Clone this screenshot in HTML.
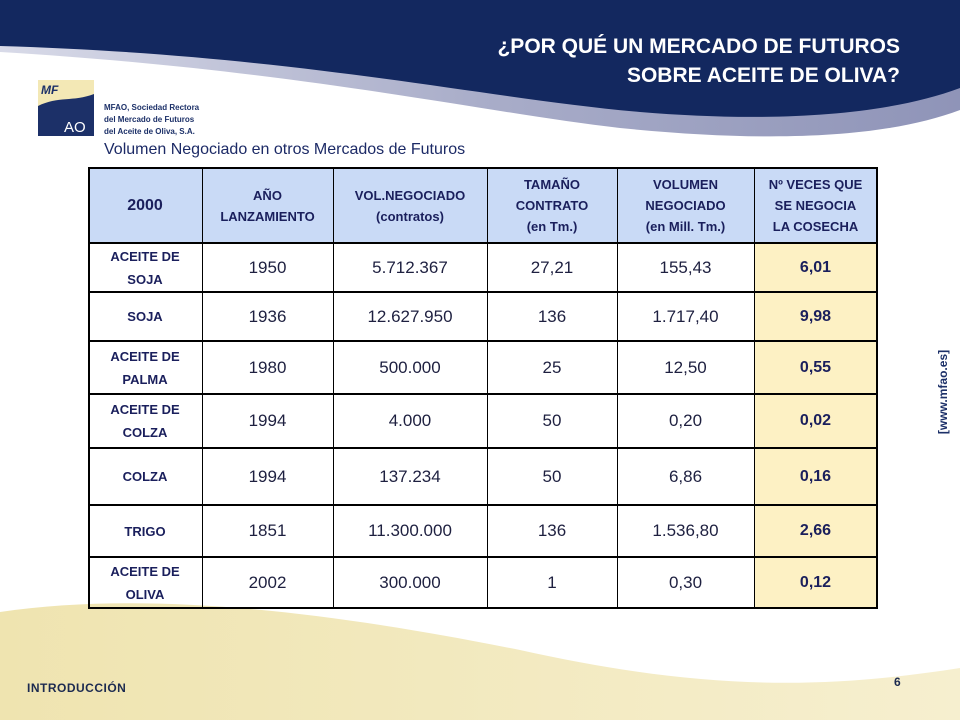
<!DOCTYPE html>
<html><head><meta charset="utf-8"><style>
body{margin:0;width:960px;height:720px;overflow:hidden;background:#fff;font-family:"Liberation Sans",Arial,sans-serif;position:relative}
.abs{position:absolute}
.cell{position:absolute;display:flex;align-items:center;justify-content:center;text-align:center;box-sizing:border-box}
.hdr{color:#1a1f5c;font-weight:bold;font-size:13px;line-height:21px;background:#c9daf6}
.lab{color:#1a1f5c;font-weight:bold;font-size:13px;line-height:23px}
.num{color:#1e2040;font-size:17px}
.last{background:#fdf1c4;color:#1a1f5c;font-weight:bold;font-size:16px}
.vl{position:absolute;background:#000;width:1px}
.hl{position:absolute;background:#000;height:2px}
</style></head><body>
<svg class="abs" style="left:0;top:0" width="960" height="720">
<defs><linearGradient id="y" x1="0" x2="1" y1="0" y2="0"><stop offset="0" stop-color="#efe4b0"/><stop offset="1" stop-color="#f6efcf"/></linearGradient>
<linearGradient id="g" x1="0" x2="1" y1="0" y2="0"><stop offset="0" stop-color="#d8dae8"/><stop offset="0.5" stop-color="#a9adc9"/><stop offset="1" stop-color="#8f94b8"/></linearGradient></defs>
<path d="M0,0H960V110C880,140 760,142 620,128C480,112 300,70 0,52Z" fill="url(#g)"/>
<path d="M0,0H960V88C880,118 760,122 640,112C480,98 300,55 0,46Z" fill="#13285f"/>
<path d="M0,612C150,590 330,612 520,650C700,690 820,690 960,668V720H0Z" fill="url(#y)"/>
</svg>
<div class="abs" style="right:60px;top:32px;color:#fff;font-weight:bold;font-size:21px;text-align:right;line-height:29px">¿POR QUÉ UN MERCADO DE FUTUROS<br>SOBRE ACEITE DE OLIVA?</div>
<div class="abs" style="left:38px;top:80px;width:56px;height:56px;background:#f3e8b5;overflow:hidden">
<svg width="56" height="56"><path d="M0,26C20,16 35,22 56,14V56H0Z" fill="#1c3068"/><text x="3" y="14" font-size="12" font-style="italic" font-weight="bold" fill="#1c3068" font-family="Liberation Sans">MF</text><text x="26" y="52" font-size="15" fill="#fff" font-family="Liberation Sans">AO</text></svg></div>
<div class="abs" style="left:104px;top:102px;font-size:8px;font-weight:bold;color:#1c3068;line-height:12px">MFAO, Sociedad Rectora<br>del Mercado de Futuros<br>del Aceite de Oliva, S.A.</div>
<div class="abs" style="left:104px;top:141px;font-size:16px;color:#1c2a66">Volumen Negociado en otros Mercados de Futuros</div>
<div id="tbl"></div>
<div class="abs" style="left:898px;top:392px;width:90px;transform:rotate(-90deg);transform-origin:center;font-size:12px;font-weight:bold;color:#1c3068;text-align:center;line-height:12px;margin-top:-6px">[www.mfao.es]</div>
<div class="abs" style="left:27px;top:681px;font-size:12px;font-weight:bold;color:#1c2a50;letter-spacing:0.5px">INTRODUCCIÓN</div>
<div class="abs" style="left:894px;top:675px;font-size:12px;font-weight:bold;color:#1c2a50">6</div>
<script>
const cols=[88,202,333,487,617,754,877];
const rows=[168,243,292,341,394,448,505,557,608];
const headers=["2000","AÑO<br>LANZAMIENTO","VOL.NEGOCIADO<br>(contratos)","TAMAÑO<br>CONTRATO<br>(en Tm.)","VOLUMEN<br>NEGOCIADO<br>(en Mill.  Tm.)","Nº VECES QUE<br>SE NEGOCIA<br>LA COSECHA"];
const markets=["ACEITE DE<br>SOJA","SOJA","ACEITE DE<br>PALMA","ACEITE DE<br>COLZA","COLZA","TRIGO","ACEITE DE<br>OLIVA"];
const years=["1950","1936","1980","1994","1994","1851","2002"];
const contracts=["5.712.367","12.627.950","500.000","4.000","137.234","11.300.000","300.000"];
const sizes=["27,21","136","25","50","50","136","1"];
const volumes=["155,43","1.717,40","12,50","0,20","6,86","1.536,80","0,30"];
const times=["6,01","9,98","0,55","0,02","0,16","2,66","0,12"];
const t=document.getElementById('tbl');
function cell(c,r,html,cls,name){const d=document.createElement('div');d.className='cell '+cls;
d.style.left=cols[c]+'px';d.style.top=rows[r]+'px';d.style.width=(cols[c+1]-cols[c])+'px';d.style.height=(rows[r+1]-rows[r])+'px';d.innerHTML=html;


t.appendChild(d);}
headers.forEach((h,i)=>cell(i,0,h,'hdr','header-cell'));
t.firstChild.style.fontSize='16px';
markets.forEach((m,i)=>{const r=i+1;
cell(0,r,m,'lab','market-label');
cell(1,r,years[i],'num','launch-year');
cell(2,r,contracts[i],'num','contracts-value');
cell(3,r,sizes[i],'num','contract-size');
cell(4,r,volumes[i],'num','volume-value');
cell(5,r,times[i],'last','harvest-times');});
cols.forEach((x,i)=>{const d=document.createElement('div');d.className='vl';d.style.left=(i==cols.length-1?x-1:x)+'px';d.style.top=rows[0]+'px';d.style.height=(rows[rows.length-1]-rows[0])+'px';if(i==0||i==cols.length-1)d.style.width='2px';


t.appendChild(d);});
rows.forEach(y=>{const d=document.createElement('div');d.className='hl';d.style.left=cols[0]+'px';d.style.top=(y-1)+'px';d.style.width=(cols[cols.length-1]-cols[0]+1)+'px';


t.appendChild(d);});
</script>
</body></html>
